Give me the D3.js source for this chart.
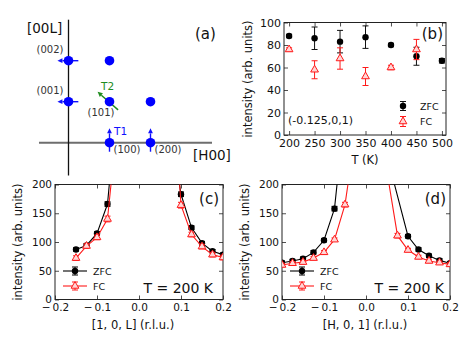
<!DOCTYPE html>
<html>
<head>
<meta charset="utf-8">
<script src="https://cdn.jsdelivr.net/npm/d3@7"></script>
<style>
  body { margin: 0; background: #fff; }
  text { font-family: "DejaVu Sans", sans-serif; fill: #111; }
</style>
</head>
<body>
<script>
// ---- (a) reciprocal lattice sketch ----
const braggH = [0, 1, 0, 1, 2, 1, 2];
const braggL = [2, 2, 1, 1, 1, 0, 0];
const peakNames = ["(002)", "(001)", "(101)", "(100)", "(200)"];
const peakH = [0, 0, 1, 1, 2];
const peakL = [2, 1, 1, 0, 0];
// transverse scan directions, tail -> tip in r.l.u.
const t1Tail = [[0.24, 2], [0.24, 1], [1, -0.22], [2, -0.22]];
const t1Tip = [[-0.27, 2], [-0.27, 1], [1, 0.35], [2, 0.35]];
const t2Tail = [1.21, 0.80];
const t2Tip = [0.71, 1.24];

// ---- (b) intensity vs temperature at (-0.125,0,1) ----
const tempZFC = [200, 250, 300, 350, 400, 450, 500];
const intZFC = [88, 86, 83, 87, 80, 70, 66];
const errZFC = [1.5, 10, 10, 10, 1.5, 8, 2];
const tempFC = [200, 250, 300, 350, 400, 450];
const intFC = [76, 58, 68, 52, 60, 76];
const errFC = [1.5, 8, 9.5, 8, 2, 9];
const tempTicks = [200, 250, 300, 350, 400, 450, 500];
const intTicksB = [0, 20, 40, 60, 80, 100];

// ---- (c) [1,0,L] scans at 200 K ----
const lZFC = [-0.15, -0.125, -0.1, -0.075, -0.05, 0.075, 0.1, 0.125, 0.15, 0.175, 0.2];
const cZFC = [87, 94, 115, 166, 366, 300, 183, 125, 98, 84, 78];
const cZFCerr = [3, 3, 3, 4, 0, 0, 4, 3, 3, 3, 3];
const lFC = [-0.15, -0.125, -0.1, -0.075, -0.05, 0.075, 0.1, 0.125, 0.15, 0.175, 0.2];
const cFC = [72, 93, 108, 140, 320, 450, 164, 113, 92, 78, 73];
const cFCerr = [4, 4, 4, 5, 0, 0, 5, 4, 4, 4, 4];

// ---- (d) [H,0,1] scans at 200 K ----
const hZFC = [-0.2, -0.175, -0.15, -0.125, -0.1, -0.075, -0.05, 0.05, 0.1, 0.125, 0.15, 0.175, 0.2];
const dZFC = [64, 67, 71, 82, 103, 158, 333, 250, 110, 87, 76, 68, 63];
const dZFCerr = [3, 3, 3, 3, 3, 4, 0, 0, 3, 3, 3, 3, 3];
const hFC = [-0.2, -0.175, -0.15, -0.125, -0.1, -0.075, -0.05, -0.025, 0.05, 0.075, 0.1, 0.125, 0.15, 0.175, 0.2];
const dFC = [60, 63, 65, 72, 82, 104, 165, 290, 222, 111, 86, 74, 67, 64, 61];
const dFCerr = [3, 3, 3, 3, 3, 3, 4, 0, 0, 4, 3, 3, 3, 3, 3];

const qTicks = [-0.2, -0.1, 0, 0.1, 0.2];
const intTicksCD = [0, 50, 100, 150, 200];

const RED = "#ff1a1a";

const svg = d3.select("body").append("svg")
  .attr("width", 469).attr("height", 341);

const qFmt = d => d < 0 ? "\u2212\u2009" + Math.abs(d).toFixed(1) : d.toFixed(1);

function arrow(g, x1, y1, x2, y2, color) {
  const ang = Math.atan2(y2 - y1, x2 - x1);
  const len = 5, hw = 2.4;
  const bx = x2 - len * Math.cos(ang), by = y2 - len * Math.sin(ang);
  g.append("line").attr("x1", x1).attr("y1", y1).attr("x2", bx).attr("y2", by)
    .attr("stroke", color).attr("stroke-width", 1.4);
  g.append("path")
    .attr("d", `M${x2},${y2}L${bx - hw * Math.sin(ang)},${by + hw * Math.cos(ang)}L${bx + hw * Math.sin(ang)},${by - hw * Math.cos(ang)}Z`)
    .attr("fill", color);
}

// ================= panel (a) =================
{
  const ga = svg.append("g");
  const ax = d3.scaleLinear().domain([0, 1]).range([68.5, 109.5]);
  const ay = d3.scaleLinear().domain([0, 1]).range([142.7, 101.7]);

  ga.append("line").attr("x1", ax(-0.72)).attr("x2", ax(3.5))
    .attr("y1", ay(0)).attr("y2", ay(0))
    .attr("stroke", "#6e6e6e").attr("stroke-width", 2);
  ga.append("line").attr("x1", ax(0)).attr("x2", ax(0))
    .attr("y1", ay(-0.8)).attr("y2", ay(3.0))
    .attr("stroke", "#111").attr("stroke-width", 1.3);

  t1Tail.forEach((t, i) => arrow(ga, ax(t[0]), ay(t[1]), ax(t1Tip[i][0]), ay(t1Tip[i][1]), "#1010ff"));
  arrow(ga, ax(t2Tail[0]), ay(t2Tail[1]), ax(t2Tip[0]), ay(t2Tip[1]), "#1e8c1e");

  ga.selectAll("circle.bragg").data(braggH).enter().append("circle")
    .attr("cx", (d, i) => ax(d)).attr("cy", (d, i) => ay(braggL[i]))
    .attr("r", 4.8).attr("fill", "#0000ff");

  // peak labels
  const off = [[-5, -8, "end"], [-5, -8, "end"], [5, 14, "end"], [4, 10.5, "start"], [4, 10.5, "start"]];
  ga.selectAll("text.peak").data(peakNames).enter().append("text")
    .attr("x", (d, i) => ax(peakH[i]) + off[i][0])
    .attr("y", (d, i) => ay(peakL[i]) + off[i][1])
    .attr("text-anchor", (d, i) => off[i][2])
    .attr("font-size", 10).style("fill", "#333").text(d => d);

  ga.append("text").attr("x", 114).attr("y", 135).attr("font-size", 10.5)
    .style("fill", "#1010ff").text("T1");
  ga.append("text").attr("x", 101).attr("y", 90).attr("font-size", 10.5)
    .style("fill", "#1e8c1e").text("T2");
  ga.append("text").attr("x", 27).attr("y", 33).attr("font-size", 13.5).text("[00L]");
  ga.append("text").attr("x", 193).attr("y", 160).attr("font-size", 13.5).text("[H00]");
  ga.append("text").attr("x", 195).attr("y", 38.5).attr("font-size", 15).text("(a)");
}

// ============== shared frame helper ==============
function frame(id, x, y, xt, yt, xf, yf, padX, fs) {
  const g = svg.append("g");
  const [x0, x1] = x.range(), [y0, y1] = y.range();
  g.append("g").attr("transform", `translate(0,${y0})`)
    .call(d3.axisBottom(x).tickValues(xt).tickSize(-4).tickPadding(padX).tickFormat(xf));
  g.append("g").attr("transform", `translate(0,${y1})`)
    .call(d3.axisTop(x).tickValues(xt).tickSize(-4).tickFormat(""));
  g.append("g").attr("transform", `translate(${x0},0)`)
    .call(d3.axisLeft(y).tickValues(yt).tickSize(-4).tickPadding(3).tickFormat(yf));
  g.append("g").attr("transform", `translate(${x1},0)`)
    .call(d3.axisRight(y).tickValues(yt).tickSize(-4).tickFormat(""));
  g.selectAll(".domain").remove();
  g.selectAll(".tick line").attr("stroke", "#222").attr("stroke-width", 0.8);
  g.selectAll(".tick text").attr("font-size", fs).attr("font-family", "DejaVu Sans").style("fill", "#111");
  g.append("rect").attr("x", x0).attr("y", y1).attr("width", x1 - x0).attr("height", y0 - y1)
    .attr("fill", "none").attr("stroke", "#222").attr("stroke-width", 1);
  svg.append("clipPath").attr("id", id).append("rect")
    .attr("x", x0).attr("y", y1).attr("width", x1 - x0).attr("height", y0 - y1);
  return svg.append("g").attr("clip-path", `url(#${id})`);
}

function errBars(g, xs, ys, es, x, y, color) {
  xs.forEach((v, i) => {
    if (!es[i]) return;
    const cx = x(v), lo = y(ys[i] - es[i]), hi = y(ys[i] + es[i]);
    g.append("line").attr("x1", cx).attr("x2", cx).attr("y1", lo).attr("y2", hi)
      .attr("stroke", color).attr("stroke-width", 1);
    [lo, hi].forEach(yy => g.append("line").attr("x1", cx - 3).attr("x2", cx + 3)
      .attr("y1", yy).attr("y2", yy).attr("stroke", color).attr("stroke-width", 1));
  });
}

function dots(g, xs, ys, x, y) {
  g.selectAll(null).data(xs).enter().append("circle")
    .attr("cx", d => x(d)).attr("cy", (d, i) => y(ys[i])).attr("r", 3.2).attr("fill", "#000");
}
const tri = d3.symbol().type(d3.symbolTriangle).size(26);
function triangles(g, xs, ys, x, y) {
  g.selectAll(null).data(xs).enter().append("path")
    .attr("d", tri).attr("transform", (d, i) => `translate(${x(d)},${y(ys[i])})`)
    .attr("fill", "#ffd6d6").attr("stroke", RED).attr("stroke-width", 1);
}
function series(g, xs, ys, es, x, y, color, marker) {
  const line = d3.line().x(d => x(d[0])).y(d => y(d[1]));
  g.append("path").datum(xs.map((v, i) => [v, ys[i]])).attr("d", line)
    .attr("fill", "none").attr("stroke", color).attr("stroke-width", 1.1);
  errBars(g, xs, ys, es, x, y, color);
  marker(g, xs, ys, x, y);
}

function yLabel(x, y, txt) {
  svg.append("text").attr("transform", `translate(${x},${y}) rotate(-90)`)
    .attr("text-anchor", "middle").attr("dominant-baseline", "central")
    .attr("font-size", 11.5).text(txt);
}

// ================= panel (b) =================
{
  const x = d3.scaleLinear().domain([190, 508]).range([284, 446]);
  const y = d3.scaleLinear().domain([0, 100]).range([135, 22.5]);
  const g = frame("clipb", x, y, tempTicks, intTicksB, d3.format("d"), d3.format("d"), 4.5, 11);
  errBars(g, tempZFC, intZFC, errZFC, x, y, "#111");
  dots(g, tempZFC, intZFC, x, y);
  errBars(g, tempFC, intFC, errFC, x, y, RED);
  triangles(g, tempFC, intFC, x, y);

  // legend
  const lg = svg.append("g");
  const lx = d3.scaleLinear().domain([0, 1]).range([403, 404]);
  const ly = d3.scaleLinear().domain([0, 10]).range([0, -10]);
  lg.append("g").attr("transform", "translate(0,106)").call(s => {
    errBars(s, [0], [0], [4.5], lx, ly, "#111"); dots(s, [0], [0], lx, ly);
  });
  lg.append("g").attr("transform", "translate(0,121.5)").call(s => {
    errBars(s, [0], [0], [5], lx, ly, RED); triangles(s, [0], [0], lx, ly);
  });
  lg.append("text").attr("x", 420).attr("y", 109.5).attr("font-size", 9.5).text("ZFC");
  lg.append("text").attr("x", 420).attr("y", 125).attr("font-size", 9.5).text("FC");

  svg.append("text").attr("x", 288).attr("y", 123.5).attr("font-size", 11).text("(-0.125,0,1)");
  svg.append("text").attr("x", 443).attr("y", 39).attr("text-anchor", "end").attr("font-size", 15).text("(b)");
  yLabel(248, 79, "intensity (arb. units)");
  svg.append("text").attr("x", 365).attr("y", 164).attr("text-anchor", "middle")
    .attr("font-size", 11.5).text("T (K)");
}

// ============== panels (c) and (d) ==============
function scanPanel(id, left, xs1, ys1, es1, xs2, ys2, es2, letter, xlab, xlabX, ylabX, legX, tEnd) {
  const x = d3.scaleLinear().domain([-0.2, 0.2]).range([left, left + 168]);
  const y = d3.scaleLinear().domain([0, 200]).range([299.5, 184.5]);
  const g = frame(id, x, y, qTicks, intTicksCD, qFmt, d3.format("d"), 4.5, 10.5);
  series(g, xs1, ys1, es1, x, y, "#000", dots);
  series(g, xs2, ys2, es2, x, y, RED, triangles);

  // legend: line + marker + small error bar
  const lx = d3.scaleLinear().domain([0, 1]).range([legX, legX + 24]);
  const ly = d3.scaleLinear().domain([0, 10]).range([0, -10]);
  svg.append("g").attr("transform", "translate(0,271)").call(s => {
    series(s, [0, 0.5, 1], [0, 0, 0], [0, 4, 0], lx, ly, "#000", (gg, a, b, sx, sy) => dots(gg, [0.5], [0], sx, sy));
  });
  svg.append("g").attr("transform", "translate(0,286)").call(s => {
    series(s, [0, 0.5, 1], [0, 0, 0], [0, 4, 0], lx, ly, RED, (gg, a, b, sx, sy) => triangles(gg, [0.5], [0], sx, sy));
  });
  svg.append("text").attr("x", legX + 30).attr("y", 274.5).attr("font-size", 9.5).text("ZFC");
  svg.append("text").attr("x", legX + 30).attr("y", 289.5).attr("font-size", 9.5).text("FC");

  svg.append("text").attr("x", tEnd).attr("y", 292.5).attr("text-anchor", "end")
    .attr("font-size", 14).text("T = 200 K");
  svg.append("text").attr("x", left + 164).attr("y", 204).attr("text-anchor", "end")
    .attr("font-size", 15).text(letter);
  yLabel(ylabX, 242, "intensity (arb. units)");
  svg.append("text").attr("x", xlabX).attr("y", 329).attr("text-anchor", "middle")
    .attr("font-size", 11.5).text(xlab);
}

scanPanel("clipc", 55, lZFC, cZFC, cZFCerr, lFC, cFC, cFCerr, "(c)", "[1, 0, L] (r.l.u.)", 133, 18, 63, 213);
scanPanel("clipd", 282, hZFC, dZFC, dZFCerr, hFC, dFC, dFCerr, "(d)", "[H, 0, 1] (r.l.u.)", 365, 245, 290, 444);
</script>
</body>
</html>
